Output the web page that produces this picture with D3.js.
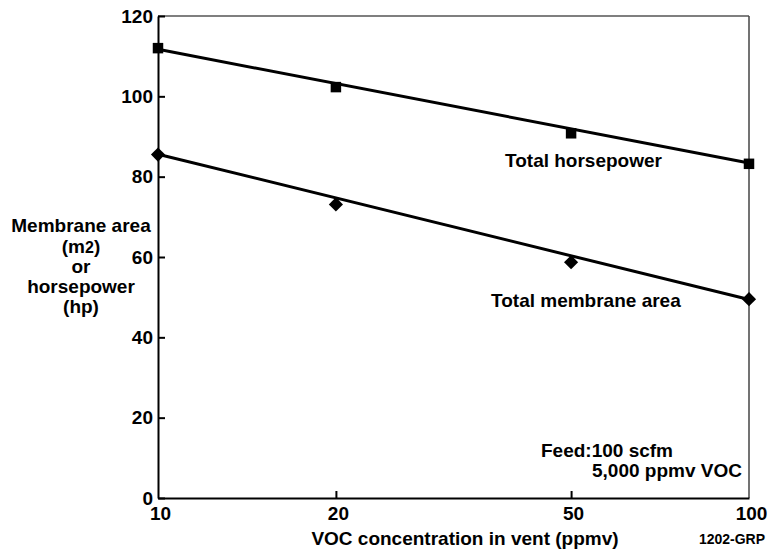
<!DOCTYPE html>
<html>
<head>
<meta charset="utf-8">
<script src="https://cdn.jsdelivr.net/npm/d3@7"></script>
<style>
  html, body { margin: 0; padding: 0; background: #fff; }
  svg text { font-family: "Liberation Sans", Arial, sans-serif; font-weight: bold; fill: #000; }
</style>
</head>
<body>
<svg id="chart" width="769" height="550"></svg>
<script>
// ---- data ----
const vocConc = [10, 20, 50, 100];                 // ppmv in vent
const horsepower = [112.0, 102.3, 90.8, 83.2];      // total horsepower (hp)
const membraneArea = [85.5, 73.1, 58.7, 49.5];      // total membrane area (m2)
const fitX = [10, 100];
const horsepowerFit = [111.7, 83.4];
const membraneFit = [85.6, 49.4];
const xTicks = [10, 20, 50, 100];
const yTicks = [0, 20, 40, 60, 80, 100, 120];

const svg = d3.select("#chart");
const L = 158, R = 749, T = 16, B = 498;
const FS = 19;

const x = d3.scaleLog().domain([10, 100]).range([L, R]);
const y = d3.scaleLinear().domain([0, 120]).range([B, T]);

// frame: top and right gray thin
svg.append("line").attr("x1", L).attr("x2", R).attr("y1", T).attr("y2", T)
  .attr("stroke", "#555").attr("stroke-width", 1.5);
svg.append("line").attr("x1", R).attr("x2", R).attr("y1", T).attr("y2", B)
  .attr("stroke", "#444").attr("stroke-width", 1.5);

// y axis
const yAxis = d3.axisLeft(y).tickValues(yTicks).tickSizeInner(-7).tickSizeOuter(0).tickPadding(5);
const gy = svg.append("g").attr("transform", `translate(${L},0)`).call(yAxis);
gy.select(".domain").attr("stroke", "#000").attr("stroke-width", 2);
gy.selectAll(".tick line").attr("stroke", "#000").attr("stroke-width", 2);
gy.selectAll(".tick text").style("font-size", FS + "px").attr("fill", "#000");

// x axis
const xAxis = d3.axisBottom(x).tickValues(xTicks).tickFormat(d3.format("d"))
  .tickSizeInner(-7).tickSizeOuter(0).tickPadding(9);
const gx = svg.append("g").attr("transform", `translate(0,${B})`).call(xAxis);
gx.select(".domain").attr("stroke", "#000").attr("stroke-width", 2);
gx.selectAll(".tick line").attr("stroke", "#000").attr("stroke-width", 2)
  .attr("display", d => (d === 10 || d === 100) ? "none" : null);
gx.selectAll(".tick text").style("font-size", FS + "px").attr("fill", "#000")
  .attr("dx", "2px");

// fit lines
const line = d3.line().x(d => x(d[0])).y(d => y(d[1]));
svg.append("path").datum(fitX.map((v, i) => [v, horsepowerFit[i]]))
  .attr("d", line).attr("fill", "none").attr("stroke", "#000").attr("stroke-width", 3);
svg.append("path").datum(fitX.map((v, i) => [v, membraneFit[i]]))
  .attr("d", line).attr("fill", "none").attr("stroke", "#000").attr("stroke-width", 3);

// markers
const sq = d3.symbol().type(d3.symbolSquare).size(110);
const dm = d3.symbol().type(d3.symbolSquare).size(100);
svg.selectAll(".hp").data(vocConc.map((v, i) => [v, horsepower[i]])).enter()
  .append("path").attr("d", sq)
  .attr("transform", d => `translate(${x(d[0])},${y(d[1])})`).attr("fill", "#000");
svg.selectAll(".ma").data(vocConc.map((v, i) => [v, membraneArea[i]])).enter()
  .append("path").attr("d", dm)
  .attr("transform", d => `translate(${x(d[0])},${y(d[1])}) rotate(45)`).attr("fill", "#000");

// labels
function txt(s, xx, yy, size, anchor) {
  return svg.append("text").attr("x", xx).attr("y", yy).style("font-size", size + "px")
    .attr("text-anchor", anchor || "start").text(s);
}
txt("Total horsepower", 505, 167, FS);
txt("Total membrane area", 491, 307, FS);
txt("Feed:100 scfm", 541, 457, FS);
txt("5,000 ppmv VOC", 592, 477, FS);
txt("VOC concentration in vent (ppmv)", 465, 545, FS, "middle");
txt("1202-GRP", 732, 544, 14, "middle");

// y-axis title
const ylab = ["Membrane area", "(m2)", "or", "horsepower", "(hp)"];
const ys = [232, 253, 273, 293, 313];
ylab.forEach((s, i) => {
  if (s === "(m2)") {
    const t = svg.append("text").attr("x", 81).attr("y", ys[i]).style("font-size", FS + "px")
      .attr("text-anchor", "middle");
    t.append("tspan").text("(m");
    t.append("tspan").style("font-size", "16px").text("2");
    t.append("tspan").text(")");
  } else {
    txt(s, 81, ys[i], FS, "middle");
  }
});
</script>
</body>
</html>
